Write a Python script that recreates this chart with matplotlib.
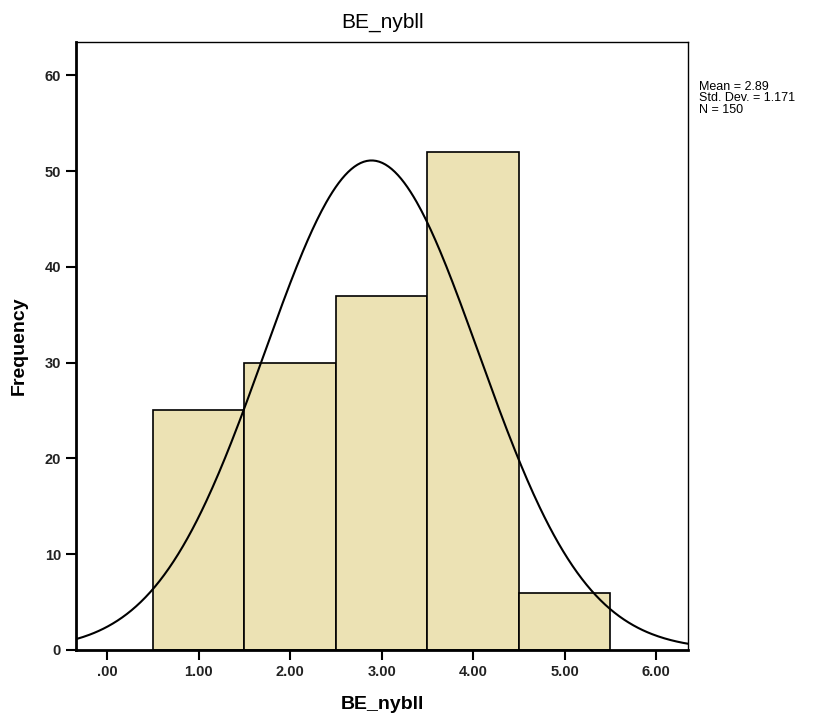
import numpy as np
import matplotlib.pyplot as plt

plt.rcParams['font.family'] = ['Liberation Sans', 'DejaVu Sans']

# histogram of BE_nybll (bins centred on 1..5)
bin_centers = [1, 2, 3, 4, 5]
counts = [25, 30, 37, 52, 6]
mean_val = 2.89
std_val = 1.171
n_val = 150
x_ticks = [0, 1, 2, 3, 4, 5, 6]
x_labels = ['.00', '1.00', '2.00', '3.00', '4.00', '5.00', '6.00']
y_ticks = [0, 10, 20, 30, 40, 50, 60]

fig = plt.figure(figsize=(8.19, 7.19), dpi=100)
ax = fig.add_axes([0.093, 0.096, 0.747, 0.846])

ax.bar(bin_centers, counts, width=1.0, color='#ECE2B4', edgecolor='black', linewidth=1.2, zorder=2)

# normal curve scaled to counts (bin width 1)
xs = np.linspace(-0.4, 6.4, 400)
ys = n_val * 1.0 / (std_val * np.sqrt(2 * np.pi)) * np.exp(-0.5 * ((xs - mean_val) / std_val) ** 2)
ax.plot(xs, ys, color='black', linewidth=1.5, zorder=3)

ax.set_xlim(-0.34, 6.35)
ax.set_ylim(0, 63.5)
ax.set_xticks(x_ticks)
ax.set_xticklabels(x_labels)
ax.set_yticks(y_ticks)
ax.tick_params(direction='out', length=7, width=1.5, labelsize=10.5, pad=4)
for lab in ax.get_xticklabels() + ax.get_yticklabels():
    lab.set_fontweight('bold')
    lab.set_color('#222222')

for side in ['left', 'bottom']:
    ax.spines[side].set_linewidth(2)
for side in ['top', 'right']:
    ax.spines[side].set_linewidth(1)

ax.set_title('BE_nybll', fontsize=15, pad=10)
ax.set_xlabel('BE_nybll', fontsize=14, fontweight='bold', labelpad=12)
ax.set_ylabel('Frequency', fontsize=14, fontweight='bold', labelpad=12)

fig.text(0.853, 0.888, 'Mean = %.2f\nStd. Dev. = %.3f\nN = %d' % (mean_val, std_val, n_val),
         fontsize=9, va='top', ha='left', linespacing=0.95)

fig.savefig('out.png', dpi=100)
